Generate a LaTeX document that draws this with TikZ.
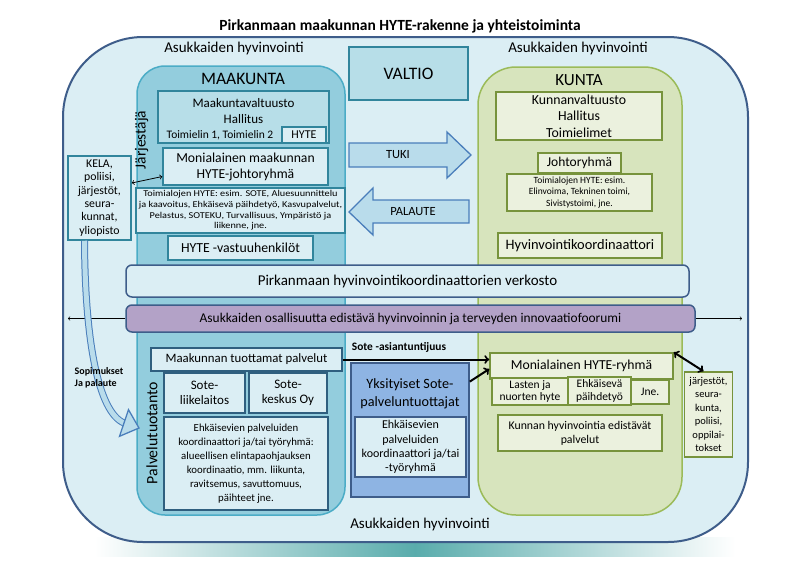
\documentclass[tikz,border=0pt]{standalone}
\usepackage{fontspec}
\setmainfont{Carlito}
\newfontfamily\widefont[FakeStretch=1.14]{Carlito}
\usepackage{tikz}
\usetikzlibrary{arrows,%
                shapes,positioning}

\definecolor{outerfill}{HTML}{DBEEF4}
\definecolor{outerline}{HTML}{3E5D8A}
\definecolor{mkfill}{HTML}{93CDDD}
\definecolor{mkline}{HTML}{4BACC6}
\definecolor{mkmid}{HTML}{B7DEE8}
\definecolor{mkdark}{HTML}{31859C}
\definecolor{mklight}{HTML}{DBEEF4}
\definecolor{ktfill}{HTML}{D7E4BD}
\definecolor{ktline}{HTML}{9BBB59}
\definecolor{ktlight}{HTML}{EBF1DE}
\definecolor{ktdark}{HTML}{77933C}
\definecolor{arrfill}{HTML}{B9DCEB}
\definecolor{arrline}{HTML}{4A7EBB}
\definecolor{purplefill}{HTML}{B3A2C7}
\definecolor{privfill}{HTML}{8EB4E3}
\definecolor{bottomline}{HTML}{2F5F7F}

\tikzset{
  box/.style={draw, rectangle, inner sep=1pt, align=center, line width=1.5pt},
  mkpanel/.style={box, draw=mkline, fill=mkfill},
  mkbox/.style={box, draw=mkdark, fill=mkmid},
  mklite/.style={box, draw=mkdark, fill=mklight},
  mkbottom/.style={box, draw=bottomline, fill=mklight},
  ktpanel/.style={box, draw=ktline, fill=ktfill},
  ktbox/.style={box, draw=ktdark, fill=ktlight},
  band/.style={box, draw=outerline, fill=mklight, rounded corners=6pt},
  fs/.style={font=\fontsize{#1}{#1}\selectfont},
  thinarrow/.style={line width=0.6pt, ->},
  thickarrow/.style={line width=2pt, -to},
}

\begin{document}
\begin{tikzpicture}[x=1pt,y=-1pt]
\useasboundingbox (0,0) rectangle (790,574);
%\draw[help lines] (0,0) grid[step=50] (790,574);
\shade[left color=white, right color=white, middle color=teal!65] (95,537) rectangle (735,556);
\node[box, draw=outerline, fill=outerfill, line width=2pt, rounded corners=80pt,
      minimum width=685, minimum height=505] (ymparisto) at (405.5,289.5) {};
\node[font=\bfseries\fontsize{15.5}{18}\selectfont] (otsikko) at (400,26) {Pirkanmaan maakunnan HYTE-rakenne ja yhteistoiminta};
\node[fs=15] (asuk1) at (234,48) {Asukkaiden hyvinvointi};
\node[fs=15] (asuk2) at (578,48) {Asukkaiden hyvinvointi};
\node[fs=15] (asuk3) at (420,524) {Asukkaiden hyvinvointi};

% maakunta
\node[mkpanel, rounded corners=28pt, minimum width=208, minimum height=449] (maakunta) at (241,290.5) {};
\node[fs=17.5] (mkotsikko) at (243,79) {MAAKUNTA};
\node[mkbox, minimum width=171, minimum height=52] (mkvalt) at (243.5,117) {};
\node[fs=13] (mkvalt1) at (243.5,103) {Maakuntavaltuusto};
\node[fs=13] (mkvalt2) at (243.5,119) {Hallitus};
\node[fs=11.5] (toimielin) at (220,135) {Toimielin 1, Toimielin 2};
\node[mklite, line width=1.2pt, minimum width=44, minimum height=16, fs=12] (hyte) at (304,135) {HYTE};
\node[fs=15.5, rotate=90] (jarjestaja) at (141.5,140) {Järjestäjä};
\node[mklite, minimum width=165, minimum height=37, font=\fontsize{13.7}{16}\selectfont] (mkjohto) at (245.5,166.5) {Monialainen maakunnan\\HYTE-johtoryhmä};
\node[mklite, minimum width=209, minimum height=45, font=\widefont\fontsize{9}{10.6}\selectfont] (mktoimi) at (240.5,210.5)
  {Toimialojen HYTE: esim. SOTE, Aluesuunnittelu\\ja kaavoitus, Ehkäisevä päihdetyö, Kasvupalvelut,\\Pelastus, SOTEKU, Turvallisuus, Ympäristö ja\\liikenne, jne.};
\node[mklite, minimum width=145, minimum height=24, fs=13.8] (vastuu) at (240.5,248) {HYTE -vastuuhenkilöt};
\node[mklite, minimum width=63, minimum height=84, font=\fontsize{11.8}{13.4}\selectfont] (kela) at (99.5,198) {KELA,\\poliisi,\\järjestöt,\\seura-\\kunnat,\\yliopisto};

% valtio ja nuolet
\node[mkbox, minimum width=119, minimum height=53, fs=17.5] (valtio) at (408.5,73.5) {VALTIO};
\draw[line width=1.3pt, draw=arrline, fill=arrfill] (349,143) -- (447,143) -- (447,132) -- (471,155)
  -- (447,178) -- (447,167) -- (349,167) -- cycle;
\node[fs=12.5] (tuki) at (398,155) {TUKI};
\draw[line width=1.3pt, draw=arrline, fill=arrfill] (469,200) -- (373,200) -- (373,188) -- (349,212)
  -- (373,235) -- (373,223) -- (469,223) -- cycle;
\node[fs=12.5] (palaute) at (413,212) {PALAUTE};

% kunta
\node[ktpanel, rounded corners=38pt, minimum width=204, minimum height=448] (kunta) at (580,291) {};
\node[fs=17] (ktotsikko) at (579,80) {KUNTA};
\node[ktbox, minimum width=166, minimum height=48, font=\fontsize{13.8}{16.5}\selectfont] (ktvalt) at (579,116) {Kunnanvaltuusto\\Hallitus\\Toimielimet};
\node[ktbox, minimum width=83, minimum height=20, fs=13.5] (johto) at (579.5,163) {Johtoryhmä};
\node[ktbox, minimum width=145, minimum height=37, font=\fontsize{9.5}{11.5}\selectfont] (kttoimi) at (579.5,192.5) {Toimialojen HYTE: esim.\\Elinvoima, Tekninen toimi,\\Sivistystoimi, jne.};
\node[ktbox, minimum width=164, minimum height=25, fs=14.4] (koord) at (580,245.5) {Hyvinvointikoordinaattori};

% verkosto ja foorumi
\node[band, minimum width=563, minimum height=32, fs=15] (verkosto) at (407.5,281) {Pirkanmaan hyvinvointikoordinaattorien verkosto};
\node[band, fill=purplefill, minimum width=569, minimum height=27, fs=13.4] (foorumi) at (410.5,318.5) {Asukkaiden osallisuutta edistävä hyvinvoinnin ja terveyden innovaatiofoorumi};
\coordinate (vasen) at (68,318.5);
\coordinate (oikea) at (742,318.5);
\draw[thinarrow] (foorumi.west) -- (vasen);
\draw[thinarrow] (foorumi.east) -- (oikea);

% palvelutuotanto
\node[mkbottom, minimum width=191, minimum height=23, fs=12.8] (tuottamat) at (246.5,359.5) {Maakunnan tuottamat palvelut};
\node[fs=15.8, rotate=90] (tuotanto) at (152,433) {Palvelutuotanto};
\node[mkbottom, minimum width=81, minimum height=40, font=\fontsize{13}{15.5}\selectfont] (liikelaitos) at (204.5,393) {Sote-\\liikelaitos};
\node[mkbottom, minimum width=78, minimum height=40, font=\fontsize{13}{15.5}\selectfont] (keskus) at (288,393) {Sote-\\keskus Oy};
\node[mkbottom, minimum width=164, minimum height=93, font=\fontsize{10.8}{14}\selectfont] (mkehk) at (246,463.5)
  {Ehkäisevien palveluiden\\koordinaattori ja/tai työryhmä:\\alueellisen elintapaohjauksen\\koordinaatio, mm. liikunta,\\ravitsemus, savuttomuus,\\päihteet jne.};
\node[box, draw=outerline, fill=privfill, minimum width=118, minimum height=134] (yksit) at (410,430) {};
\node[fs=14.2] (yksit1) at (410,385) {Yksityiset Sote-};
\node[fs=14.2] (yksit2) at (410,403) {palveluntuottajat};
\node[box, draw=outerline, fill=mklight, minimum width=111, minimum height=60, font=\fontsize{12}{14.3}\selectfont] (yksehk) at (410.5,447)
  {Ehkäisevien\\palveluiden\\koordinaattori ja/tai\\-työryhmä};
\node[font=\bfseries\fontsize{11.4}{13}\selectfont] (asiant) at (399,347) {Sote -asiantuntijuus};

% kunnan palvelut
\node[ktbox, minimum width=183, minimum height=26, fs=13.7] (hyteryhma) at (581.5,366) {Monialainen HYTE-ryhmä};
\node[ktbox, minimum width=76, minimum height=27, font=\fontsize{11.5}{12.6}\selectfont] (lasten) at (530,391.5) {Lasten ja\\nuorten hyte};
\node[ktbox, minimum width=63, minimum height=28, font=\fontsize{11.5}{12.6}\selectfont] (ehkpaih) at (599.5,391) {Ehkäisevä\\päihdetyö};
\node[ktbox, minimum width=38, minimum height=24, fs=11.5] (jne) at (650,392) {Jne.};
\node[ktbox, minimum width=164, minimum height=36, font=\fontsize{11.8}{14}\selectfont] (ktpalv) at (580,433) {Kunnan hyvinvointia edistävät\\palvelut};
\node[ktbox, minimum width=48, minimum height=85, font=\fontsize{10.5}{13.5}\selectfont] (jarj) at (708.5,414.5) {järjestöt,\\seura-\\kunta,\\poliisi,\\oppilai-\\tokset};

% yhteydet
\draw[line width=0.8pt, <->] ([yshift=15pt]kela.east) -- ([yshift=-10pt]mkjohto.west);
\draw[thickarrow] (tuottamat.east) -- (tuottamat.east -| hyteryhma.west);
\draw[thickarrow] (yksit.39) -- ([yshift=-3pt]hyteryhma.west);
\draw[line width=2pt, to-to] (hyteryhma.north east) -- ([xshift=-5pt]jarj.north);
\draw[line width=1pt, draw=arrline, double=arrfill, double distance=5pt]
  ([xshift=-15pt]kela.south) .. controls (85,340) and (98,412) .. (124,423);
\draw[line width=1.3pt, draw=arrline, fill=arrfill] (128.5,409.7) -- (139,428) -- (119.5,436.3) -- cycle;
\node[font=\bfseries\fontsize{10}{12}\selectfont, align=left] (sopimukset) at (99,378) {Sopimukset\\Ja palaute};

\end{tikzpicture}
\end{document}
